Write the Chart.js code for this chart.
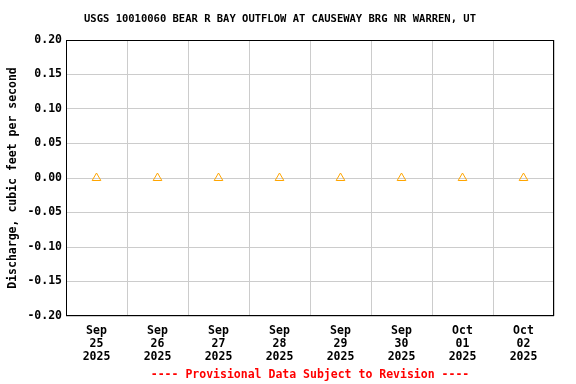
<!DOCTYPE html>
<html><head><meta charset="utf-8">
<script src="https://cdn.jsdelivr.net/npm/chart.js@4"></script>
<style>html,body{margin:0;padding:0;background:#fff}#wrap{width:576px;height:384px}</style>
</head><body><div id="wrap"><canvas id="c" width="576" height="384"></canvas></div>
<script>
const categories = [['Sep','25','2025'],['Sep','26','2025'],['Sep','27','2025'],['Sep','28','2025'],['Sep','29','2025'],['Sep','30','2025'],['Oct','01','2025'],['Oct','02','2025']];
const discharge = [0, 0, 0, 0, 0, 0, 0, 0];
const yTicks = [-0.20,-0.15,-0.10,-0.05,0.00,0.05,0.10,0.15,0.20];
const titleText = 'USGS 10010060 BEAR R BAY OUTFLOW AT CAUSEWAY BRG NR WARREN, UT';
const footerText = '---- Provisional Data Subject to Revision ----';
const yTitle = 'Discharge, cubic feet per second';

const F = "'DejaVu Sans Mono', monospace";
Chart.defaults.font.family = F;
Chart.defaults.font.weight = 'bold';
Chart.defaults.color = '#000';

new Chart(document.getElementById('c'), {
  type: 'line',
  data: { labels: categories, datasets: [{
    data: discharge, showLine: false, pointStyle: 'triangle', pointRadius: 5,
    pointBorderColor: '#FFA500', pointBackgroundColor: 'rgba(0,0,0,0)', pointBorderWidth: 1,
    pointHoverRadius: 5
  }]},
  options: {
    responsive: false, animation: false, devicePixelRatio: 1,
    layout: { padding: { top: 40, right: 22, left: 6, bottom: 18 } },
    plugins: { legend: { display: false }, tooltip: { enabled: false } },
    scales: {
      x: {
        offset: true,
        grid: { offset: true, color: '#cccccc', drawTicks: false },
        border: { display: false },
        ticks: { font: { size: 11.5, weight: 'bold', lineHeight: 1.13 }, color: '#000', padding: 9, maxRotation: 0, autoSkip: false },
        afterFit: s => { s.height = 50; }
      },
      y: {
        min: -0.2, max: 0.2,
        afterBuildTicks: s => { s.ticks = yTicks.map(v => ({ value: v })); },
        grid: { color: '#cccccc', drawTicks: false },
        border: { display: false },
        ticks: { font: { size: 11.5, weight: 'bold' }, color: '#000', padding: 4, callback: v => v.toFixed(2) },
        title: { display: true, text: yTitle, font: { size: 11.5, weight: 'bold', lineHeight: 1.2 }, color: '#000', padding: { top: 0, bottom: 2 } },
        afterFit: s => { s.width = 60; }
      }
    }
  },
  plugins: [{
    id: 'frameAndText',
    afterDraw(chart) {
      const { ctx, chartArea: a } = chart;
      const l = Math.round(a.left), r = Math.round(a.right), t = Math.round(a.top), b = Math.round(a.bottom);
      ctx.save(); ctx.strokeStyle = '#000'; ctx.lineWidth = 1;
      ctx.strokeRect(l + 0.5, t + 0.5, r - l - 1, b - t - 1);
      ctx.textAlign = 'center'; ctx.textBaseline = 'middle';
      ctx.fillStyle = '#000';
      ctx.font = "bold 10.5px " + F;
      ctx.fillText(titleText, 280, 19);
      ctx.fillStyle = '#FF0000';
      ctx.font = "bold 11.5px " + F;
      ctx.fillText(footerText, (a.left + a.right) / 2, 375);
      ctx.restore();
    }
  }]
});
</script></body></html>
